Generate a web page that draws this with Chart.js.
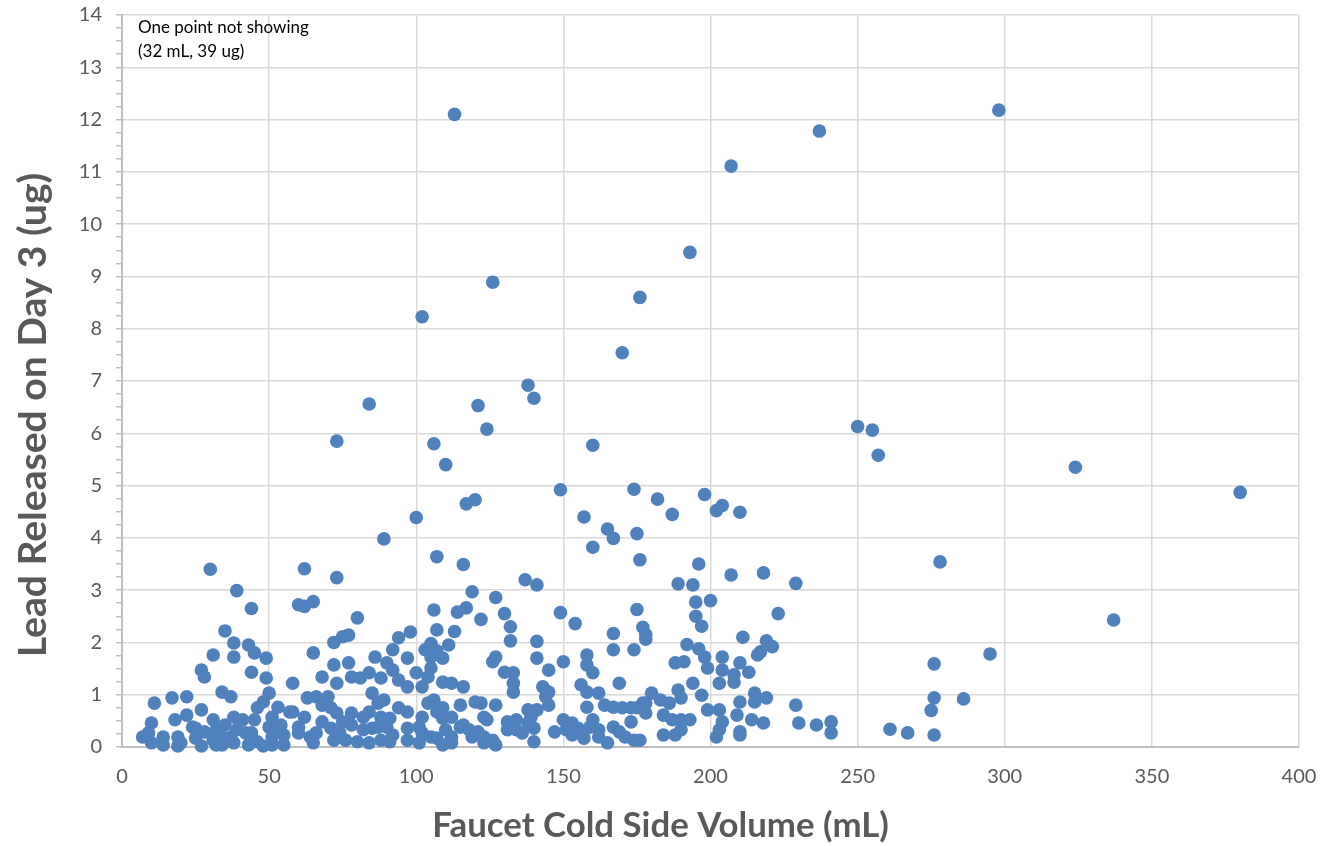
<!DOCTYPE html>
<html>
<head>
<meta charset="utf-8">
<title>Lead released vs faucet volume</title>
<script src="https://cdn.jsdelivr.net/npm/chart.js@4.4.1/dist/chart.umd.min.js"></script>
<style>
    html, body { margin: 0; padding: 0; background: #ffffff; }
    #wrap { width: 1321px; height: 846px; }
</style>
</head>
<body>
<div id="wrap"><canvas id="leadChart" width="1321" height="846"></canvas></div>
<script>
// Faucet cold side volume (mL) and lead released on day 3 (ug)
// (paired by position; rows are in the same order in both arrays)
const volumeML = [
    // upper points and far right
    113, 298, 237, 207, 193, 126, 102, 176, 170, 138,
    140, 84, 121, 124, 250, 255, 257, 73, 106, 160,
    110, 324, 149, 174, 380, 198, 182, 120, 117, 204,
    210, 202, 187, 100, 157, 165, 175, 167, 89, 160,
    107, 176, 278, 196, 116, 30, 62, 218, 207, 73,
    137, 141, 194, 189, 229, 39, 119, 127, 195, 200,
    65, 60, 62, 175, 106, 117, 114, 44, 149, 130,
    195, 223, 337, 122, 154, 197, 177, 35, 98, 113,
    132, 107, 75, 77, 94, 167, 178, 211, 178, 132,
    141, 219, 72, 105, 192, 43, 38, 221, 196, 167,
    174, 107, 92, 103, 80, 111, 276, 295, 286, 276,
    275, 241, 241, 261, 267, 276,
    // low band, 0-60 mL
    31, 38, 45, 49, 27, 28, 44, 49, 58, 11,
    17, 22, 34, 37, 50, 48, 46, 53, 51, 57,
    27, 22, 18, 10, 9, 7, 10, 14, 14, 19,
    19, 20, 24, 25, 27, 31, 32, 31, 35, 34,
    34, 38, 39, 38, 41, 42, 43, 44, 46, 50,
    51, 51, 54, 55, 55,
    // low band, 60-117 mL
    65, 72, 77, 68, 73, 78, 81, 84, 86, 90,
    88, 92, 94, 97, 100, 97, 102, 105, 109, 105,
    104, 109, 112, 116, 63, 66, 70, 58, 62, 60,
    68, 71, 73, 68, 71, 66, 65, 75, 78, 78,
    72, 76, 80, 84, 82, 85, 87, 85, 87, 89,
    84, 88, 91, 90, 92, 91, 94, 97, 97, 101,
    101, 105, 104, 106, 107, 109, 109, 112, 110, 115,
    109, 112, 115, 116, 107,
    // low band, 118-177 mL
    126, 127, 130, 133, 133, 133, 120, 122, 127, 123,
    124, 118, 121, 123, 126, 127, 131, 134, 131, 138,
    139, 138, 140, 140, 141, 145, 150, 143, 145, 144,
    145, 141, 147, 150, 153, 155, 153, 157, 158, 158,
    160, 156, 158, 162, 158, 164, 167, 170, 173, 175,
    177, 160, 159, 162, 167, 169, 171, 174, 169, 173,
    // low band, 176-236 mL
    188, 191, 198, 199, 204, 204, 203, 208, 208, 210,
    213, 216, 217, 194, 197, 180, 178, 178, 183, 186,
    189, 190, 184, 187, 190, 193, 190, 188, 184, 199,
    203, 204, 203, 202, 210, 209, 210, 210, 215, 219,
    215, 214, 218, 229, 230, 236, 176,
    // partly hidden dots in the densest part of the band
    60, 74, 82, 88, 64, 102, 102, 112, 97, 25,
    28, 32, 37, 45, 48, 52, 119, 123, 134, 136,
    151, 162, 165
];

const leadUG = [
    // upper points and far right
    12.1, 12.18, 11.78, 11.11, 9.46, 8.89, 8.23, 8.6, 7.54, 6.92,
    6.67, 6.56, 6.53, 6.08, 6.13, 6.06, 5.58, 5.85, 5.8, 5.77,
    5.4, 5.35, 4.92, 4.93, 4.87, 4.83, 4.74, 4.73, 4.65, 4.62,
    4.49, 4.52, 4.45, 4.39, 4.4, 4.17, 4.08, 3.99, 3.98, 3.82,
    3.64, 3.58, 3.54, 3.5, 3.49, 3.4, 3.41, 3.33, 3.29, 3.24,
    3.2, 3.1, 3.1, 3.12, 3.13, 2.99, 2.97, 2.86, 2.77, 2.8,
    2.78, 2.72, 2.69, 2.63, 2.62, 2.66, 2.58, 2.65, 2.57, 2.55,
    2.5, 2.55, 2.43, 2.44, 2.36, 2.31, 2.29, 2.22, 2.2, 2.21,
    2.3, 2.24, 2.11, 2.14, 2.09, 2.17, 2.15, 2.1, 2.06, 2.03,
    2.02, 2.03, 2.0, 1.98, 1.96, 1.95, 1.99, 1.92, 1.88, 1.86,
    1.86, 1.84, 1.86, 1.86, 2.47, 1.95, 1.59, 1.78, 0.92, 0.94,
    0.7, 0.48, 0.27, 0.34, 0.27, 0.23,
    // low band, 0-60 mL
    1.76, 1.72, 1.8, 1.7, 1.47, 1.34, 1.43, 1.32, 1.22, 0.84,
    0.94, 0.96, 1.05, 0.96, 1.03, 0.86, 0.75, 0.76, 0.57, 0.67,
    0.71, 0.61, 0.52, 0.46, 0.27, 0.19, 0.08, 0.19, 0.04, 0.19,
    0.02, 0.08, 0.38, 0.17, 0.02, 0.52, 0.33, 0.13, 0.42, 0.19,
    0.04, 0.57, 0.33, 0.08, 0.52, 0.27, 0.04, 0.27, 0.1, 0.38,
    0.19, 0.04, 0.42, 0.23, 0.04,
    // low band, 60-117 mL
    1.8, 1.57, 1.61, 1.34, 1.22, 1.34, 1.32, 1.42, 1.72, 1.61,
    1.32, 1.47, 1.28, 1.7, 1.42, 1.15, 1.15, 1.72, 1.7, 1.51,
    1.34, 1.24, 1.22, 1.15, 0.94, 0.96, 0.96, 0.67, 0.57, 0.38,
    0.8, 0.75, 0.65, 0.48, 0.36, 0.27, 0.08, 0.48, 0.65, 0.42,
    0.13, 0.13, 0.1, 0.08, 0.33, 0.36, 0.38, 1.03, 0.84, 0.9,
    0.67, 0.57, 0.55, 0.38, 0.23, 0.1, 0.75, 0.67, 0.36, 0.38,
    0.08, 0.19, 0.84, 0.9, 0.67, 0.75, 0.55, 0.57, 0.33, 0.38,
    0.04, 0.19, 0.8, 0.42, 0.17,
    // low band, 118-177 mL
    1.63, 1.72, 1.43, 1.42, 1.22, 1.05, 0.86, 0.84, 0.8, 0.57,
    0.52, 0.33, 0.29, 0.19, 0.13, 0.04, 0.48, 0.52, 0.33, 0.71,
    0.57, 0.46, 0.36, 0.1, 1.7, 1.47, 1.63, 1.15, 1.05, 0.96,
    0.8, 0.71, 0.29, 0.52, 0.46, 0.36, 0.23, 0.17, 1.76, 1.57,
    1.42, 1.19, 1.05, 1.03, 0.76, 0.8, 0.76, 0.75, 0.75, 0.75,
    0.84, 0.52, 0.38, 0.19, 0.38, 0.29, 0.19, 0.13, 1.22, 0.48,
    // low band, 176-236 mL
    1.61, 1.63, 1.72, 1.51, 1.72, 1.47, 1.22, 1.38, 1.24, 1.61,
    1.43, 1.76, 1.82, 1.22, 0.99, 1.03, 0.84, 0.65, 0.9, 0.84,
    1.09, 0.94, 0.61, 0.52, 0.52, 0.52, 0.33, 0.23, 0.23, 0.71,
    0.71, 0.48, 0.33, 0.19, 0.86, 0.61, 0.29, 0.23, 1.03, 0.94,
    0.86, 0.52, 0.46, 0.8, 0.46, 0.42, 0.13,
    // partly hidden dots in the densest part of the band
    0.27, 0.27, 0.57, 0.13, 0.19, 0.57, 0.27, 0.08, 0.13, 0.36,
    0.29, 0.04, 0.19, 0.52, 0.02, 0.27, 0.19, 0.08, 0.33, 0.27,
    0.33, 0.33, 0.08
];

const noteLines = ['One point not showing', '(32 mL, 39 ug)'];
const xTitle = 'Faucet Cold Side Volume (mL)';
const yTitle = 'Lead Released on Day 3 (ug)';

const FONT = 'Lato, "Open Sans", sans-serif';
const GREY_TEXT = '#595959';
const GRID = '#d9d9d9';
const AXIS = '#bfbfbf';

const points = volumeML.map((v, i) => ({ x: v, y: leadUG[i] }));

// bold font sized so the text spans roughly the same length as in the original
function fitFont(ctx, text, target) {
    ctx.font = 'bold 30px ' + FONT;
    const size = 30 * target / ctx.measureText(text).width;
    return 'bold ' + size.toFixed(1) + 'px ' + FONT;
}

// note box in the top-left corner + axis titles (centred on the whole chart, like Excel)
const extras = {
    id: 'extras',
    afterDraw(chart) {
        const { ctx, chartArea, width } = chart;
        ctx.save();
        ctx.font = '17px ' + FONT;
        ctx.fillStyle = '#000000';
        ctx.textBaseline = 'middle';
        noteLines.forEach((t, i) => {
            ctx.fillText(t, chartArea.left + 16, chartArea.top + 13 + i * 24);
        });

        ctx.fillStyle = GREY_TEXT;
        ctx.textAlign = 'center';
        ctx.font = fitFont(ctx, xTitle, 457);
        ctx.fillText(xTitle, width / 2, 826);

        ctx.translate(33, 415);
        ctx.rotate(-Math.PI / 2);
        ctx.font = fitFont(ctx, yTitle, 485);
        ctx.fillText(yTitle, 0, 0);
        ctx.restore();
    }
};

new Chart(document.getElementById('leadChart'), {
    type: 'scatter',
    data: {
        datasets: [{
            data: points,
            backgroundColor: '#4f81bd',
            borderWidth: 0,
            pointRadius: 6.8,
            pointHoverRadius: 6.8,
            clip: false
        }]
    },
    options: {
        responsive: false,
        animation: false,
        layout: { padding: { top: 15, right: 22, bottom: 0, left: 0 } },
        plugins: {
            legend: { display: false },
            tooltip: { enabled: false }
        },
        scales: {
            x: {
                type: 'linear',
                min: 0,
                max: 400,
                ticks: { stepSize: 50, padding: 18, color: GREY_TEXT, font: { family: FONT, size: 20 } },
                grid: { color: GRID, lineWidth: 1.5, drawTicks: false },
                border: { color: AXIS, width: 2 },
                afterFit: scale => {
                    scale.height = 99;
                    scale.paddingLeft = 0;
                    scale.paddingRight = 0;
                }
            },
            y: {
                type: 'linear',
                min: 0,
                max: 14,
                ticks: {
                    stepSize: 0.25,
                    autoSkip: false,
                    padding: 14,
                    color: GREY_TEXT,
                    font: { family: FONT, size: 20 },
                    callback: value => Number.isInteger(value) ? value : ''
                },
                grid: {
                    color: c => (c.tick && Number.isInteger(c.tick.value)) ? GRID : 'rgba(0,0,0,0)',
                    lineWidth: 1.5,
                    tickLength: 6,
                    tickColor: AXIS,
                    tickWidth: 1.5
                },
                border: { color: AXIS, width: 2 },
                afterFit: scale => {
                    scale.width = 122;
                    scale.paddingTop = 0;
                    scale.paddingBottom = 0;
                }
            }
        }
    },
    plugins: [extras]
});
</script>
</body>
</html>
